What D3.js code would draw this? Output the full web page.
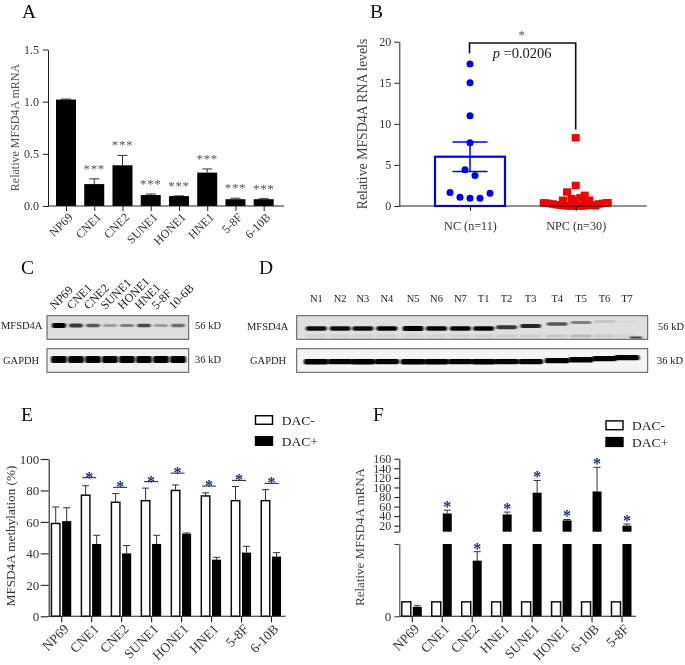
<!DOCTYPE html>
<html><head><meta charset="utf-8">
<script src="https://cdn.jsdelivr.net/npm/d3@7"></script>
<style>
html,body{margin:0;padding:0;background:#fff}
svg{display:block}
text{font-family:"Liberation Serif","Times New Roman",serif}
</style></head><body><svg id="c" width="685" height="665"></svg>
<script>
// Panel A
const aCats=["NP69","CNE1","CNE2","SUNE1","HONE1","HNE1","5-8F","6-10B"];
const aVals=[1.02,0.21,0.39,0.105,0.095,0.32,0.065,0.065];
const aErrTop=[1.025,0.26,0.485,0.115,0.097,0.355,0.075,0.07];
const aTicks=[0,0.5,1,1.5];
// Panel B
const bCats=["NC (n=11)","NPC (n=30)"];
const bTicks=[0,5,10,15,20];
const ncVals=[17.3,15,11,7.7,4.4,3.7,1.65,1.05,0.95,0.95,1.55];
const ncSlots=[0,0,0,0,-0.5,0.5,-2,-1,0,1,2];
const npcVals=[8.3,2.5,1.7,1.3,1.0,0.9,0.7,0.7,0.65,0.6,0.38,0.4,0.35,0.35,0.3,0.3,0.25,0.25,0.15,0.15,0.1,0.1,0.05,0.05,0,0,0,0,0,0.02];
const npcSlots=[0,0,-0.27,0.28,0.14,-0.13,-0.4,0.42,0.0,0.28,-1,1,-0.92,0.92,-0.84,0.84,-0.72,0.72,-0.6,0.6,-0.48,0.48,-0.36,0.36,-0.24,0.24,-0.12,0.12,0,0.62];
const bMean=[6.0], bLo=[4.2], bHi=[7.8];
// Panels C and D (blots)
const cLanes=["NP69","CNE1","CNE2","SUNE1","HONE1","HNE1","5-8F","10-6B"];
const cMfsd=[1,0.68,0.55,0.25,0.38,0.6,0.25,0.45];
const cGapdh=[1,1,1,1,1,1,1,0.95];
const dLanes=["N1","N2","N3","N4","N5","N6","N7","T1","T2","T3","T4","T5","T6","T7"];
const dSlots=[0,1,1.95,2.95,4.05,5.03,6.03,7,7.96,8.97,10.08,11.08,12.06,13];
const dMfsd=[0.85,0.85,0.85,0.9,1,0.92,0.95,0.88,0.68,0.75,0.55,0.38,0.13,0.03];
const dGapdh=[1,0.95,1,0.95,1,1,0.95,1,0.95,0.9,0.95,1,0.95,0.95];
const dLower=[0.05,0.05,0.05,0.05,0.05,0.05,0.05,0.06,0.08,0.08,0.1,0.16,0.08,0.05];
// Panel E
const eCats=["NP69","CNE1","CNE2","SUNE1","HONE1","HNE1","5-8F","6-10B"];
const eMinus=[59,77,72.5,73.5,80,76.5,73.5,73.5];
const eMinusErr=[69.5,83,78,81.5,83.5,78.5,82.5,80.5];
const ePlus=[60.5,46,40,46,52.5,36,40.5,38];
const ePlusErr=[69,51.5,45,51.5,53,37.5,44.5,40.5];
const eSig=[null,88.1,82,85.6,91,82.8,86.4,84.5];
const eSigShift=[0,-2,-1,0,-3.5,-2,-2,0.5];
const eTicks=[0,20,40,60,80,100];
// Panel F
const fCats=["NP69","CNE1","CNE2","HNE1","SUNE1","HONE1","6-10B","5-8F"];
const fMinus=[1,1,1,1,1,1,1,1];
const fPlus=[0.65,45.5,3.85,43.5,89,31,91.5,20];
const fPlusErr=[0.73,52.5,4.47,48.5,114.5,33,142,23.5];
const fHasStar=[false,true,true,true,true,true,true,true];
const fUpperTicks=[20,40,60,80,100,120,140,160];
const legendNames=["DAC-","DAC+"];

const svg=d3.select("#c");
const defs=svg.append("defs");
defs.append("filter").attr("id","b1").attr("x","-30%").attr("y","-150%").attr("width","160%").attr("height","400%")
  .append("feGaussianBlur").attr("stdDeviation","1 0.6");
const soft=defs.append("filter").attr("id","soft").attr("x","-2%").attr("y","-2%").attr("width","104%").attr("height","104%");
soft.append("feGaussianBlur").attr("stdDeviation","0.35");
const root=svg.append("g").attr("filter","url(#soft)");

const letter=(t,x,y)=>root.append("text").attr("x",x).attr("y",y).attr("font-size",19.5).attr("fill","#111").text(t);
const ink="#333";
function styleAxis(g,sw,col){
  g.selectAll("path,line").attr("stroke",col||"#222").attr("stroke-width",sw||1);
  g.selectAll("text").attr("fill",ink).style("font-family",'"Liberation Serif"');
}
function rotLabels(g,fs){
  g.selectAll("text").attr("font-size",fs).attr("text-anchor","end").attr("transform","rotate(-45)").attr("dx","-0.3em").attr("dy","0.45em");
}
function yTitle(t,x,yc,fs,col){
  root.append("text").attr("transform",`translate(${x},${yc}) rotate(-90)`).attr("text-anchor","middle").attr("font-size",fs).attr("fill",col||ink).text(t);
}

// ---- A
letter("A",22,17.5);
{
 const x=d3.scalePoint().domain(aCats).range([66,263.7]);
 const y=d3.scaleLinear().domain([0,1.5]).range([206,49.5]);
 const bw=20;
 const g=root.append("g");
 const e=g.selectAll(".e").data(aCats).join("g");
 e.append("line").attr("x1",d=>x(d)).attr("x2",d=>x(d)).attr("y1",(d,i)=>y(aVals[i])).attr("y2",(d,i)=>y(aErrTop[i])).attr("stroke","#333");
 e.append("line").attr("x1",d=>x(d)-5).attr("x2",d=>x(d)+5).attr("y1",(d,i)=>y(aErrTop[i])).attr("y2",(d,i)=>y(aErrTop[i])).attr("stroke","#333");
 g.selectAll("rect").data(aCats).join("rect").attr("x",d=>x(d)-bw/2).attr("width",bw)
  .attr("y",(d,i)=>y(aVals[i])).attr("height",(d,i)=>y(0)-y(aVals[i])).attr("fill","#000");
 g.selectAll(".s").data(aCats.slice(1)).join("text").attr("text-anchor","middle").attr("x",d=>x(d)).attr("font-size",13).attr("fill","#555").attr("letter-spacing","0.6")
  .attr("y",(d,i)=>y(aErrTop[i+1])-6).text("***");
 const ax=root.append("g").attr("transform","translate(48,0)").call(d3.axisLeft(y).tickValues(aTicks).tickFormat(d3.format(".1f")).tickSize(5).tickPadding(4).tickSizeOuter(0));
 ax.selectAll("text").attr("font-size",12); styleAxis(ax);
 const bx=root.append("g").attr("transform","translate(0,206)").call(d3.axisBottom(x).tickSize(5).tickSizeOuter(0));
 bx.select("path").attr("d","M48,0H284");
 rotLabels(bx,12); styleAxis(bx);
 yTitle("Relative MFSD4A mRNA",19,127.5,12,"#555");
}

// ---- B
letter("B",370,17.5);
{
 const x=d3.scalePoint().domain(bCats).range([470,575.7]);
 const y=d3.scaleLinear().domain([0,20]).range([206,41.7]);
 const slotNC=d3.scaleLinear().domain([-2,2]).range([-20,20]);
 const slotNPC=d3.scaleLinear().domain([-1,1]).range([-32,32]);
 const blue="#0000f0", red="#f00000";
 root.append("rect").attr("x",x(bCats[0])-35).attr("width",70).attr("y",y(bMean[0])).attr("height",y(0)-y(bMean[0])).attr("fill","none").attr("stroke",blue).attr("stroke-width",2.2);
 root.append("line").attr("x1",x(bCats[0])).attr("x2",x(bCats[0])).attr("y1",y(bLo[0])).attr("y2",y(bHi[0])).attr("stroke",blue).attr("stroke-width",1.5);
 [bLo[0],bHi[0]].forEach(v=>root.append("line").attr("x1",x(bCats[0])-17.5).attr("x2",x(bCats[0])+17.5).attr("y1",y(v)).attr("y2",y(v)).attr("stroke",blue).attr("stroke-width",1.5));
 root.append("g").selectAll("circle").data(ncVals).join("circle").attr("cx",(d,i)=>x(bCats[0])+slotNC(ncSlots[i])).attr("cy",d=>y(d)).attr("r",3.5).attr("fill",blue);
 root.append("g").selectAll("rect").data(npcVals).join("rect").attr("x",(d,i)=>x(bCats[1])+slotNPC(npcSlots[i])-4).attr("y",d=>y(d)-3.7).attr("width",8).attr("height",7.4).attr("fill",red);
 const ax=root.append("g").attr("transform","translate(399.3,0)").call(d3.axisLeft(y).tickValues(bTicks).tickSize(5).tickSizeOuter(0));
 ax.selectAll("text").attr("font-size",12); styleAxis(ax);
 const bx=root.append("g").attr("transform","translate(0,206)").call(d3.axisBottom(x).tickSize(5).tickSizeOuter(0).tickPadding(10));
 bx.select("path").attr("d","M399.3,0H646.7");
 bx.selectAll("text").attr("font-size",12.2); styleAxis(bx);
 yTitle("Relative MFSD4A RNA levels",367,124,13.8,"#444");
 const x0=x(bCats[0]),x1=x(bCats[1]);
 root.append("path").attr("d",`M${x0-0.5},${y(18.6)}V${y(19.85)}H${x1}V${y(9.3)}`).attr("fill","none").attr("stroke","#111").attr("stroke-width",1.6);
 root.append("text").attr("x",(x0+x1)/2-1).attr("y",39).attr("text-anchor","middle").attr("font-size",13).attr("fill","#555").text("*");
 const p=root.append("text").attr("x",492.7).attr("y",58).attr("font-size",14.5).attr("fill","#222");
 p.append("tspan").attr("font-style","italic").text("p");
 p.append("tspan").text(" =0.0206");
}

// ---- blots
function blot(x0,x1,y0,y1,laneX,vals,bandY,bw,bh,bg,tilt,lower,lowerY){
 const g=root.append("g");
 g.append("rect").attr("x",x0).attr("y",y0).attr("width",x1-x0).attr("height",y1-y0).attr("fill",bg).attr("stroke","#555").attr("stroke-width",1);
 if(lower) g.append("g").selectAll("rect").data(lower).join("rect")
  .attr("x",(d,i)=>laneX(i)-bw/2).attr("width",bw).attr("y",lowerY-1.5).attr("height",3).attr("fill","#000").attr("opacity",d=>d).attr("filter","url(#b1)");
 g.append("g").selectAll("rect").data(vals).join("rect")
  .attr("x",(d,i)=>laneX(i)-bw/2).attr("width",bw)
  .attr("y",(d,i)=>bandY+(tilt?tilt(i):0)-bh/2*(0.45+0.55*d))
  .attr("height",d=>bh*(0.45+0.55*d)).attr("rx",2)
  .attr("fill","#000").attr("opacity",d=>Math.min(1,d*1.1)).attr("filter","url(#b1)");
 return g;
}
letter("C",21,274);
{
 const lane=d3.scaleLinear().domain([0,7]).range([59,178]);
 root.append("g").selectAll("text").data(cLanes).join("text")
  .attr("transform",(d,i)=>`translate(${lane(i)-4.5},${310}) rotate(-45)`).attr("font-size",12).attr("fill","#222").text(d=>d);
 blot(47,188.7,315.7,339.3,lane,cMfsd,325.5,14,4.8,"#dcdcdc");
 blot(47,188.7,348.7,372.3,lane,cGapdh,359.5,16,7.2,"#f2f2f2");
 [["MFSD4A",1,329],["GAPDH",3,364]].forEach(a=>root.append("text").attr("x",a[1]).attr("y",a[2]).attr("font-size",10.5).attr("fill","#222").text(a[0]));
 [["56 kD",329],["36 kD",363]].forEach(a=>root.append("text").attr("x",195).attr("y",a[1]).attr("font-size",10.5).attr("fill","#222").text(a[0]));
}
letter("D",259,274);
{
 const slot=d3.scaleLinear().domain([0,13]).range([316.3,627]);
 const lane=i=>slot(dSlots[i]);
 root.append("g").selectAll("text").data(dLanes).join("text").attr("x",(d,i)=>lane(i)).attr("y",302).attr("text-anchor","middle")
  .attr("font-size",10.5).attr("fill","#222").text(d=>d);
 const tilt=d3.scaleLinear().domain([7,9,10,11,12]).range([0,-2.5,-4.5,-6,-7]).clamp(true);
 const top=blot(296.7,647.7,315.7,339.3,lane,dMfsd,328.5,21,4.8,"#dfdfdf",i=>tilt(i),dLower,336);
 top.append("rect").attr("x",lane(13)+3).attr("width",12).attr("y",336.5).attr("height",2).attr("fill","#000").attr("opacity",0.7).attr("filter","url(#b1)");
 blot(296.7,647.7,348.7,372.3,lane,dGapdh,361.7,25,5.5,"#f4f4f4",i=>i>9?(9-i):0);
 [["MFSD4A",247,330],["GAPDH",250,364]].forEach(a=>root.append("text").attr("x",a[1]).attr("y",a[2]).attr("font-size",10.5).attr("fill","#222").text(a[0]));
 [["56 kD",658,330],["36 kD",657,364]].forEach(a=>root.append("text").attr("x",a[1]).attr("y",a[2]).attr("font-size",10.5).attr("fill","#222").text(a[0]));
}

function legend(x,y1,y2,w,h,tx,fs){
 [y1,y2].forEach((yy,i)=>{
  root.append("rect").attr("x",x).attr("y",yy-h/2).attr("width",w).attr("height",h).attr("fill",i?"#000":"#fff").attr("stroke","#000").attr("stroke-width",1.4);
  root.append("text").attr("x",tx).attr("y",yy+4.5).attr("font-size",fs).attr("fill","#222").text(legendNames[i]);
 });
}

// ---- E
letter("E",21,421);
{
 const x=d3.scalePoint().domain(eCats).range([61.2,271]);
 const y=d3.scaleLinear().domain([0,100]).range([616.3,459]);
 const off=5.5,bw=8.5;
 const errs=(vals,tops,dx)=>{
  const g=root.append("g");
  g.selectAll("line.v").data(vals).join("line").attr("class","v").attr("x1",(d,i)=>x(eCats[i])+dx).attr("x2",(d,i)=>x(eCats[i])+dx).attr("y1",d=>y(d)).attr("y2",(d,i)=>y(tops[i])).attr("stroke","#333");
  g.selectAll("line.h").data(vals).join("line").attr("class","h").attr("x1",(d,i)=>x(eCats[i])+dx-3.5).attr("x2",(d,i)=>x(eCats[i])+dx+3.5).attr("y1",(d,i)=>y(tops[i])).attr("y2",(d,i)=>y(tops[i])).attr("stroke","#333");
 };
 errs(eMinus,eMinusErr,-off); errs(ePlus,ePlusErr,off);
 root.append("g").selectAll("rect").data(eMinus).join("rect").attr("x",(d,i)=>x(eCats[i])-off-bw/2).attr("width",bw).attr("y",d=>y(d)).attr("height",d=>y(0)-y(d)).attr("fill","#fff").attr("stroke","#111").attr("stroke-width",1.5);
 root.append("g").selectAll("rect").data(ePlus).join("rect").attr("x",(d,i)=>x(eCats[i])+off-bw/2-0.3).attr("width",bw+0.6).attr("y",d=>y(d)).attr("height",d=>y(0)-y(d)).attr("fill","#000");
 eSig.forEach((v,i)=>{ if(v==null)return;
  const cx=x(eCats[i])+eSigShift[i];
  root.append("line").attr("x1",cx-7).attr("x2",cx+7).attr("y1",y(v)).attr("y2",y(v)).attr("stroke","#222").attr("stroke-width",1);
  root.append("text").attr("x",cx).attr("y",y(v)+5).attr("text-anchor","middle").attr("font-size",16).attr("font-weight","bold").attr("fill","#13306b").text("*");
 });
 const ax=root.append("g").attr("transform","translate(48.7,0)").call(d3.axisLeft(y).tickValues(eTicks).tickSize(8).tickPadding(1.5).tickSizeOuter(0));
 ax.selectAll("text").attr("font-size",13); styleAxis(ax,1.1);
 const bx=root.append("g").attr("transform","translate(0,616.3)").call(d3.axisBottom(x).tickSize(6).tickSizeOuter(0));
 bx.select("path").attr("d","M48.7,0H285.5");
 rotLabels(bx,13.5); styleAxis(bx,1.1);
 yTitle("MFSD4A methylation (%)",14.5,536,13.2,"#333");
 legend(255.5,420,441,17,8.5,281.7,13.5);
}

// ---- F
letter("F",373,421);
{
 const x=d3.scalePoint().domain(fCats).range([411.8,621.5]);
 const lo=d3.scaleLinear().domain([0,5]).range([616.3,544]);
 const hi=d3.scaleLinear().domain([7.5,160]).range([531.7,458.7]);
 const off=5.5,bw=9;
 root.append("g").selectAll("rect").data(fMinus).join("rect").attr("x",(d,i)=>x(fCats[i])-off-bw/2).attr("width",bw).attr("y",d=>lo(d)).attr("height",d=>lo(0)-lo(d)).attr("fill","#fff").attr("stroke","#111").attr("stroke-width",1.5);
 fPlus.forEach((v,i)=>{
  const cx=x(fCats[i])+off, top=fPlusErr[i];
  const yy=t=>t>5?hi(t):lo(t);
  root.append("line").attr("x1",cx).attr("x2",cx).attr("y1",yy(v)).attr("y2",yy(top)).attr("stroke","#333");
  root.append("line").attr("x1",cx-3.5).attr("x2",cx+3.5).attr("y1",yy(top)).attr("y2",yy(top)).attr("stroke","#333");
  root.append("rect").attr("x",cx-bw/2).attr("width",bw).attr("y",v>5?lo(5):lo(v)).attr("height",v>5?lo(0)-lo(5):lo(0)-lo(v)).attr("fill","#000");
  if(v>5) root.append("rect").attr("x",cx-bw/2).attr("width",bw).attr("y",hi(v)).attr("height",hi(7.5)-hi(v)).attr("fill","#000");
  if(fHasStar[i]) root.append("text").attr("x",cx).attr("y",yy(top)+2).attr("text-anchor","middle").attr("font-size",16).attr("font-weight","bold").attr("fill","#13306b").text("*");
 });
 const ax=root.append("g").attr("transform","translate(399.3,0)").call(d3.axisLeft(hi).tickValues(fUpperTicks.concat([7.5])).tickFormat(d=>d===7.5?"":d).tickSize(5).tickSizeOuter(0));
 ax.selectAll("text").attr("font-size",12); styleAxis(ax,1.1);
 const ax2=root.append("g").attr("transform","translate(399.3,0)").call(d3.axisLeft(lo).tickValues([0,5]).tickFormat(d=>d===0?"0":"").tickSize(5).tickSizeOuter(0));
 ax2.selectAll("text").attr("font-size",13); styleAxis(ax2,1.1,"#444");
 const bx=root.append("g").attr("transform","translate(0,616.3)").call(d3.axisBottom(x).tickSize(6).tickSizeOuter(0));
 bx.select("path").attr("d","M399.3,0H636");
 rotLabels(bx,13.5); styleAxis(bx,1.1);
 yTitle("Relative MFSD4A mRNA",364,537,13,"#444");
 legend(606,425.3,442,17,8.8,632,13.5);
}
</script></body></html>
